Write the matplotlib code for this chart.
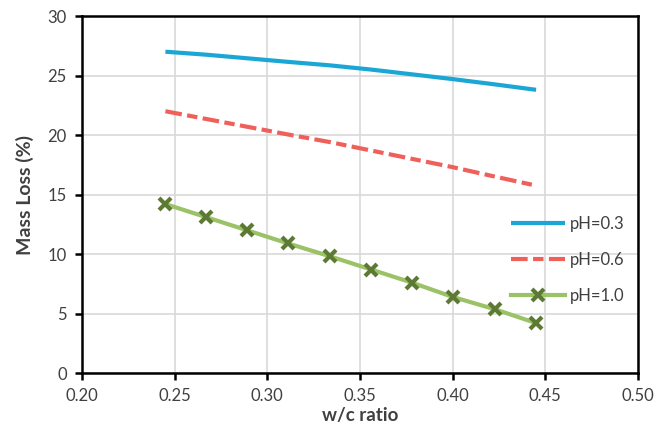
import matplotlib
matplotlib.use("Agg")
import matplotlib.pyplot as plt

plt.rcParams['font.family'] = ['Lato', 'DejaVu Sans']

wc_ratio = [0.245, 0.267, 0.289, 0.311, 0.334, 0.356, 0.378, 0.400, 0.423, 0.445]
ph03 = [27.0, 26.75, 26.45, 26.15, 25.85, 25.5, 25.1, 24.7, 24.25, 23.8]
ph06 = [22.0, 21.35, 20.7, 20.05, 19.4, 18.7, 18.0, 17.3, 16.5, 15.75]
ph10 = [14.2, 13.1, 12.0, 10.9, 9.8, 8.7, 7.6, 6.4, 5.35, 4.2]
labels = ['pH=0.3', 'pH=0.6', 'pH=1.0']

xticks = [0.20, 0.25, 0.30, 0.35, 0.40, 0.45, 0.50]
yticks = [0, 5, 10, 15, 20, 25, 30]

fig = plt.figure(figsize=(6.56, 4.41), dpi=100)
ax = fig.add_axes([0.125, 0.154, 0.8476, 0.8097])

ax.plot(wc_ratio, ph03, color='#1AA7D5', lw=3, label=labels[0], solid_capstyle='butt')
ax.plot(wc_ratio, ph06, color='#F0605A', lw=3, linestyle=(0, (4, 1.3, 2.5, 1.3)), label=labels[1])
ax.plot(wc_ratio, ph10, color='#9CC268', lw=3, marker='x', markersize=9, markeredgewidth=3,
        markeredgecolor='#5C7A34', label=labels[2])

ax.set_xlim(0.20, 0.50)
ax.set_ylim(0, 30)
ax.set_xticks(xticks)
ax.set_xticklabels([f'{v:.2f}' for v in xticks])
ax.set_yticks(yticks)
ax.grid(True, color='#D9D9D9', lw=1.2)
ax.set_axisbelow(True)
for s in ax.spines.values():
    s.set_linewidth(1.8)
    s.set_color('black')
ax.tick_params(axis='both', direction='out', length=5, width=1.8, labelsize=12, colors='black',
               labelcolor='#404040', pad=6)

ax.set_xlabel('w/c ratio', fontsize=13.5, fontweight='bold', color='#404040', labelpad=2)
ax.set_ylabel('Mass Loss (%)', fontsize=14, fontweight='bold', color='#404040', labelpad=10)

leg = ax.legend(loc='center left', bbox_to_anchor=(0.745, 0.318), frameon=False, fontsize=12,
                handlelength=3.2, handletextpad=0.3, labelspacing=1.2)
for t in leg.get_texts():
    t.set_color('#404040')

fig.savefig('out.png', dpi=100)
